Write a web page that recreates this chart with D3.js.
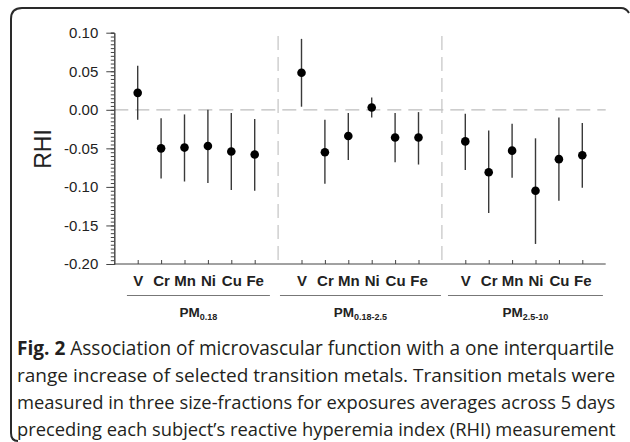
<!DOCTYPE html>
<html>
<head>
<meta charset="utf-8">
<script src="https://cdn.jsdelivr.net/npm/d3@7"></script>
<style>
  body { margin: 0; background: #fff; }
  svg { display: block; }
</style>
</head>
<body>
<div id="chart"></div>
<script>
// metals per size fraction
var metals = ["V", "Cr", "Mn", "Ni", "Cu", "Fe"];
var fractions = ["0.18", "0.18-2.5", "2.5-10"];

// point estimates and 95% CI, one array per fraction
var est018 = [0.022, -0.050, -0.049, -0.047, -0.054, -0.058];
var lo018 = [-0.013, -0.089, -0.093, -0.095, -0.104, -0.105];
var hi018 = [0.057, -0.011, -0.006, 0.000, -0.004, -0.012];

var est0182 = [0.048, -0.055, -0.034, 0.003, -0.036, -0.036];
var lo0182 = [0.004, -0.096, -0.065, -0.010, -0.068, -0.071];
var hi0182 = [0.092, -0.013, -0.004, 0.016, -0.004, -0.003];

var est2510 = [-0.041, -0.081, -0.053, -0.105, -0.064, -0.059];
var lo2510 = [-0.078, -0.134, -0.088, -0.174, -0.118, -0.101];
var hi2510 = [-0.005, -0.027, -0.018, -0.037, -0.010, -0.017];

var yTicks = [0.10, 0.05, 0.00, -0.05, -0.10, -0.15, -0.20];

var captionBold = "Fig. 2";
var captionLines = [
  " Association of microvascular function with a one interquartile",
  "range increase of selected transition metals. Transition metals were",
  "measured in three size-fractions for exposures averages across 5 days",
  "preceding each subject\u2019s reactive hyperemia index (RHI) measurement"
];

var estimates = [est018, est0182, est2510];
var lowers = [lo018, lo0182, lo2510];
var uppers = [hi018, hi0182, hi2510];

var width = 630, height = 442;
var textColor = "#222";
var axisFont = "'Liberation Sans', Arial, sans-serif";

var svg = d3.select("#chart").append("svg")
  .attr("width", width)
  .attr("height", height);

// rounded frame (left + top only)
svg.append("path")
  .attr("d", "M18,441 Q11,441 11,433 L11,19 Q11,8 22,8 L621,8 Q626,8 629,13")
  .attr("fill", "none")
  .attr("stroke", "#2a2a2a")
  .attr("stroke-width", 2);

// flatten data into slots: each group has 6 slots + 1 gap slot
var points = [];
fractions.forEach(function (f, g) {
  metals.forEach(function (m, i) {
    points.push({ slot: g * 7 + i, metal: m, est: estimates[g][i], lo: lowers[g][i], hi: uppers[g][i] });
  });
});

var x = d3.scaleLinear().domain([-1, 20]).range([114.3, 605.7]);
var y = d3.scaleLinear().domain([-0.20, 0.10]).range([264, 32.7]);

// dashed reference lines
svg.append("line")
  .attr("x1", x(-1)).attr("x2", x(20))
  .attr("y1", y(0)).attr("y2", y(0))
  .attr("stroke", "#bdbdbd").attr("stroke-width", 1.2)
  .attr("stroke-dasharray", "14,7");

[6, 13].forEach(function (s) {
  svg.append("line")
    .attr("x1", x(s)).attr("x2", x(s))
    .attr("y1", 36).attr("y2", y(-0.20))
    .attr("stroke", "#c4c4c4").attr("stroke-width", 1.2)
    .attr("stroke-dasharray", "14,7");
});

// y axis: minor ticks, then major
var minorVals = d3.range(-200, 101, 5).map(function (d) { return d / 1000; });
svg.append("g")
  .attr("transform", "translate(" + x(-1) + ",0)")
  .call(d3.axisLeft(y).tickValues(minorVals).tickSize(3.5).tickFormat(""))
  .call(function (g) { g.selectAll("path, line").attr("stroke", "#444"); });

var yAxis = svg.append("g")
  .attr("transform", "translate(" + x(-1) + ",0)")
  .call(d3.axisLeft(y).tickValues(yTicks).tickSize(8).tickSizeOuter(0).tickPadding(8).tickFormat(d3.format(".2f")));
yAxis.selectAll("path, line").attr("stroke", "#444");
yAxis.selectAll("text")
  .style("font-family", axisFont).style("font-size", "15px").attr("fill", textColor)
  .text(function (d) { return d3.format(".2f")(d).replace("−", "-"); });

// x axis
var xAxis = svg.append("g")
  .attr("transform", "translate(0," + y(-0.20) + ")")
  .call(d3.axisBottom(x)
    .tickValues(points.map(function (d) { return d.slot; }))
    .tickSizeInner(-4).tickSizeOuter(0).tickPadding(11)
    .tickFormat(function (s) { return metals[s % 7]; }));
xAxis.select(".domain").attr("d", "M" + x(-1) + ",0H" + x(20)).attr("stroke", "#444");
xAxis.selectAll("line").attr("stroke", "#444");
xAxis.selectAll("text")
  .style("font-family", axisFont).style("font-size", "15px").style("font-weight", "bold").attr("fill", textColor);

// group underlines and labels
var groupSpans = [[-0.46, 5.65], [6.08, 12.96], [13.26, 19.88]];
fractions.forEach(function (f, g) {
  var x0 = x(groupSpans[g][0]), x1 = x(groupSpans[g][1]);
  svg.append("line")
    .attr("x1", x0).attr("x2", x1).attr("y1", 295.5).attr("y2", 295.5)
    .attr("stroke", "#777").attr("stroke-width", 1.2);
  var t = svg.append("text")
    .attr("x", (x0 + x1) / 2).attr("y", 317)
    .attr("text-anchor", "middle")
    .style("font-family", axisFont).style("font-weight", "bold").attr("fill", textColor);
  t.append("tspan").style("font-size", "13.5px").text("PM");
  t.append("tspan").style("font-size", "9px").attr("dy", 3).text(f);
});

// error bars
svg.selectAll(".err").data(points).enter().append("line")
  .attr("class", "err")
  .attr("x1", function (d) { return x(d.slot); })
  .attr("x2", function (d) { return x(d.slot); })
  .attr("y1", function (d) { return y(d.lo); })
  .attr("y2", function (d) { return y(d.hi); })
  .attr("stroke", "#3a3a3a").attr("stroke-width", 1.4);

// point estimates
svg.selectAll(".pt").data(points).enter().append("circle")
  .attr("class", "pt")
  .attr("cx", function (d) { return x(d.slot); })
  .attr("cy", function (d) { return y(d.est); })
  .attr("r", 4.3)
  .attr("fill", "#000");

// y label
svg.append("text")
  .attr("transform", "translate(51,149) rotate(-90)")
  .attr("text-anchor", "middle")
  .style("font-family", axisFont).style("font-size", "23px").attr("fill", textColor)
  .text("RHI");

// caption - size fitted so the first line spans the same width as the original
var capFont = "'Open Sans', 'Noto Sans', sans-serif";
var cap = svg.append("g").attr("fill", "#231f20").style("font-family", capFont);
var capSize = 18;
var capTexts = captionLines.map(function (line, i) {
  var t = cap.append("text").attr("x", 17).attr("y", 355 + i * 27).style("font-size", capSize + "px");
  if (i === 0) t.append("tspan").style("font-weight", "bold").text(captionBold);
  t.append("tspan").text(line);
  return t;
});
var w0 = capTexts[0].node().getComputedTextLength();
var fitted = capSize * 598 / w0;
capTexts.forEach(function (t) { t.style("font-size", fitted + "px"); });
// shrink the longer lines a touch so they stay inside the page
capTexts.forEach(function (t) {
  var w = t.node().getComputedTextLength();
  if (w > 598) t.style("font-size", (fitted * 598 / w) + "px");
});
</script>
</body>
</html>
